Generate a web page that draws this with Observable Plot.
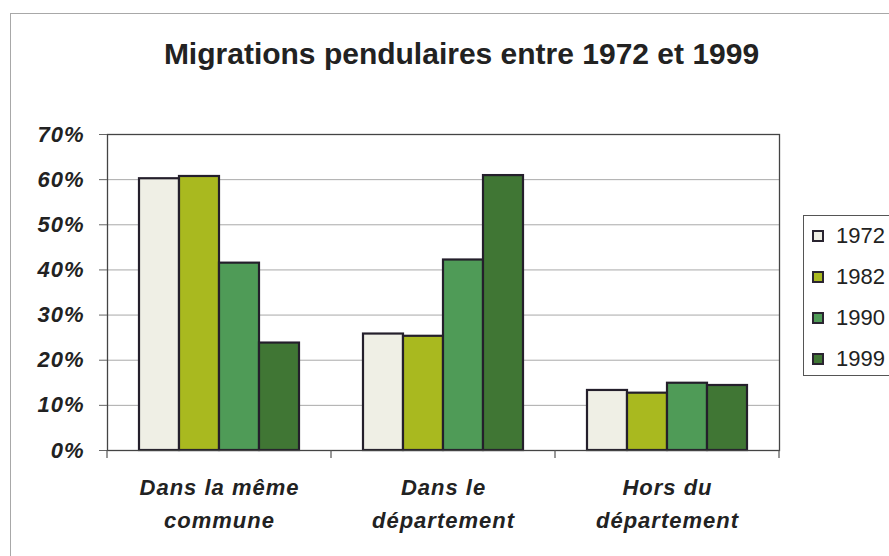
<!DOCTYPE html>
<html><head><meta charset="utf-8">
<script src="https://cdn.jsdelivr.net/npm/d3@7"></script>
<script src="https://cdn.jsdelivr.net/npm/@observablehq/plot@0.6"></script>
<style>
html,body{margin:0;padding:0;background:#fff;width:889px;height:556px;overflow:hidden;position:relative;}
#frame{position:absolute;left:10px;top:13px;width:1000px;height:1000px;border:1px solid #a8a8a8;}
#title{position:absolute;left:0;width:923px;top:37px;line-height:30px;text-align:center;font:bold 30px "Liberation Sans",Arial,sans-serif;color:#222;}
#chart{position:absolute;left:0;top:80px;}
#legend{position:absolute;left:803px;top:215px;width:200px;height:159px;border:1px solid #555;background:#fff;}
.row{position:absolute;left:8px;height:24px;display:flex;align-items:center;font:22px "Liberation Sans",Arial,sans-serif;color:#222;}
.sw{width:8px;height:8px;border:2px solid #2a2430;margin-right:12px;}
#chart svg g[aria-label="y-axis tick label"]{font:italic bold 22px "Liberation Sans",Arial,sans-serif;letter-spacing:1px;color:#222;}
#chart svg g[aria-label="fx-axis tick label"]{font:italic bold 22px "Liberation Sans",Arial,sans-serif;letter-spacing:1px;color:#222;}
</style>
</head>
<body>
<div id="frame"></div>
<div id="title">Migrations pendulaires entre 1972 et 1999</div>
<div id="chart"></div>
<div id="legend"></div>
<script>
const categories = ["Dans la même\ncommune", "Dans le\ndépartement", "Hors du\ndépartement"];
const years = ["1972", "1982", "1990", "1999"];
const v1972 = [60.2, 25.8, 13.3];
const v1982 = [60.7, 25.3, 12.7];
const v1990 = [41.5, 42.2, 14.9];
const v1999 = [23.8, 60.9, 14.4];
const colors = ["#efefe5", "#a9b91f", "#4f9b57", "#407634"];
const yTicks = [0, 10, 20, 30, 40, 50, 60, 70];

const series = [v1972, v1982, v1990, v1999];
const data = [];
categories.forEach((c, i) => {
  series.forEach((arr, j) => data.push({cat: c, year: years[j], value: arr[i]}));
});

const plot = Plot.plot({
  width: 889,
  height: 476,
  marginLeft: 106,
  marginRight: 110,
  marginTop: 54,
  marginBottom: 106,
  style: {background: "transparent", overflow: "visible"},
  fx: {domain: categories, padding: 0, label: null},
  x: {domain: years, paddingInner: 0, paddingOuter: 0.77, axis: null},
  y: {domain: [0, 70], label: null},
  color: {domain: years, range: colors},
  marks: [
    Plot.gridY(yTicks, {stroke: "#a9a9a9", strokeOpacity: 1, strokeWidth: 1}),
    Plot.barY(data, {fx: "cat", x: "year", y: "value", fill: "year", stroke: "#241f2b", strokeWidth: 2.2}),
    Plot.frame({facet: "super", stroke: "#444", strokeWidth: 1.3}),
    Plot.axisY(yTicks, {tickSize: 8, tickPadding: 15, tickFormat: d => d + "%", stroke: "#666"}),
    Plot.axisFx({anchor: "bottom", tickSize: 0, tickPadding: 21, lineHeight: 1.5, label: null})
  ]
});
document.getElementById("chart").appendChild(plot);

// category boundary tick marks, positioned through the library's scales
const fx = plot.scale("fx");
const y = plot.scale("y");
const svg = d3.select(plot.tagName.toLowerCase() === "svg" ? plot : plot.querySelector("svg"));
const bounds = categories.map(c => fx.apply(c)).concat([fx.apply(categories[categories.length - 1]) + fx.bandwidth]);
const y0 = y.apply(0);
svg.append("g").selectAll("line").data(bounds).join("line")
  .attr("x1", d => d).attr("x2", d => d)
  .attr("y1", y0).attr("y2", y0 + 8)
  .attr("stroke", "#555").attr("stroke-width", 1.2);

// legend
const legend = d3.select("#legend");
years.forEach((yr, i) => {
  const row = legend.append("div").attr("class", "row").style("top", (8 + i * 41) + "px");
  row.append("div").attr("class", "sw").style("background", colors[i]);
  row.append("span").text(yr);
});
</script>
</body></html>
